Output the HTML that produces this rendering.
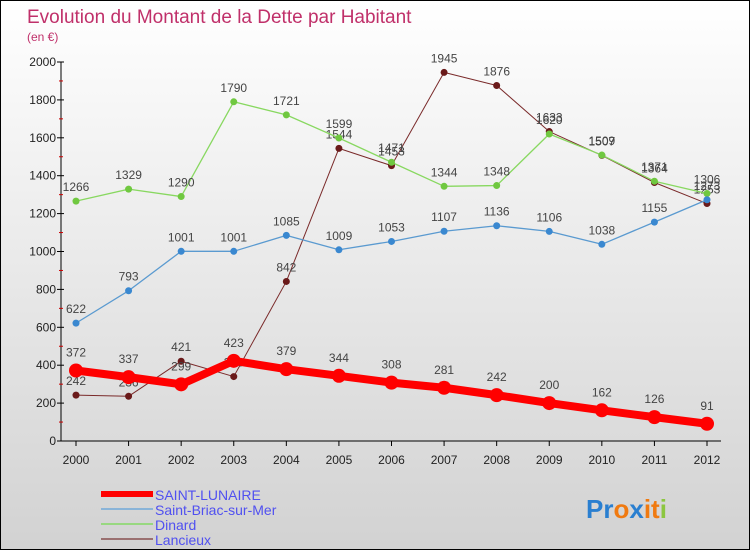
<!DOCTYPE html>
<html><head><meta charset="utf-8"><style>
html,body{margin:0;padding:0}
body{width:750px;height:550px;overflow:hidden;font-family:"Liberation Sans","DejaVu Sans",sans-serif}
#wrap{position:relative;width:748px;height:548px;border:1px solid #000;background:linear-gradient(#ffffff,#d2d2d2)}
svg{position:absolute;left:0;top:0}
</style></head><body>
<div id="wrap">
<svg id="chart" width="750" height="550">
<text x="26" y="22" font-size="19" fill="#c0306a">Evolution du Montant de la Dette par Habitant</text>
<text x="26" y="40" font-size="12" fill="#c0306a">(en €)</text>
<g id="axes"></g><g id="series"></g><g id="legend"></g>
<text x="585" y="517" font-size="26" font-weight="bold"><tspan fill="#2a7fd0">Pr</tspan><tspan fill="#f07a10">o</tspan><tspan fill="#2a7fd0">x</tspan><tspan fill="#f07a10">it</tspan><tspan fill="#8cc640">i</tspan></text>
</svg></div>
<script>
const years=[2000,2001,2002,2003,2004,2005,2006,2007,2008,2009,2010,2011,2012];
const yTicks=[0,200,400,600,800,1000,1200,1400,1600,1800,2000];
const seriesNames=["SAINT-LUNAIRE","Saint-Briac-sur-Mer","Dinard","Lancieux"];
const saintLunaire=[372,337,299,423,379,344,308,281,242,200,162,126,91];
const saintBriac=[622,793,1001,1001,1085,1009,1053,1107,1136,1106,1038,1155,1273];
const dinard=[1266,1329,1290,1790,1721,1599,1471,1344,1348,1620,1509,1371,1306];
const lancieux=[242,236,421,340,842,1544,1453,1945,1876,1633,1507,1364,1253];
const NS="http://www.w3.org/2000/svg";
const X=i=>75+i*(706-75)/(years.length-1);
const Y=v=>440-v*(440-61)/2000;
function mk(tag,attrs,parent,text){const e=document.createElementNS(NS,tag);for(const k in attrs)e.setAttribute(k,attrs[k]);if(text!==undefined)e.textContent=text;parent.appendChild(e);return e;}
const axes=document.getElementById('axes');
const ya=mk('line',{x1:60,y1:61,x2:60,y2:440,stroke:'#000'},axes);


yTicks.forEach(t=>{
 mk('line',{x1:56,x2:63,y1:Y(t),y2:Y(t),stroke:'#000'},axes);
 if(t<2000)mk('line',{x1:58,x2:62,y1:Y(t+100),y2:Y(t+100),stroke:'#c00'},axes);
 const l=mk('text',{x:55,y:Y(t)+4,'font-size':12,fill:'#222','text-anchor':'end'},axes,t);
 
 
});
const xa=mk('line',{x1:60,y1:440,x2:720,y2:440,stroke:'#000'},axes);


years.forEach((y,i)=>{
 mk('line',{x1:X(i),x2:X(i),y1:440,y2:445,stroke:'#000'},axes);
 const l=mk('text',{x:X(i),y:463,'font-size':12,fill:'#222','text-anchor':'middle'},axes,y);
 
 
});
const sg=document.getElementById('series');
const defs=[[lancieux,'#7a2a2a','#6a1a1a',1,3.5,'lancieux'],[dinard,'#88d860','#70c840',1.3,3.5,'dinard'],[saintBriac,'#5a9ad0','#3a88d0',1.3,3.5,'saint-briac'],[saintLunaire,'#ff0000','#ff0000',8,7,'saint-lunaire']];
defs.forEach(([d,c,pc,w,r,n])=>{
 const g=mk('g',{},sg);
 
 
 const p=mk('polyline',{points:d.map((v,i)=>X(i)+','+Y(v)).join(' '),fill:'none',stroke:c,'stroke-width':w,'stroke-linejoin':'round'},g);
 
 
 d.forEach((v,i)=>{
  const cc=mk('circle',{cx:X(i),cy:Y(v),r:r,fill:pc},g);
  
  
  const t=mk('text',{x:X(i),y:Y(v)-(r>5?14:10),'font-size':12,fill:'#444','text-anchor':'middle'},g,v);
  
  
 });
});
const lg=document.getElementById('legend');
const lc=[['#ff0000',6],['#8ab4d8',2],['#98d880',2],['#9a7070',2]];
seriesNames.forEach((s,i)=>{
 const y=493+i*15;
 const g=mk('g',{},lg);
 
 
 mk('line',{x1:100,x2:152,y1:y,y2:y,stroke:lc[i][0],'stroke-width':lc[i][1]},g);
 mk('text',{x:154,y:y+6,'font-size':14,fill:'#5050f0'},g,s);
});
</script>
</body></html>
